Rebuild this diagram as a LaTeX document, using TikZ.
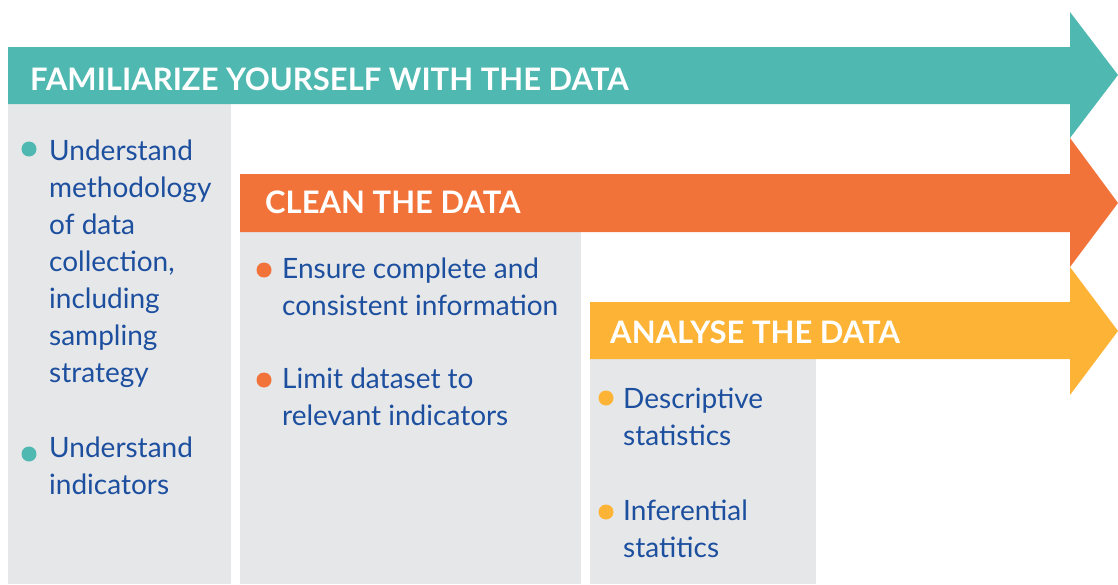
\documentclass[tikz,border=0pt]{standalone}
\usepackage{fontspec}
\setmainfont{Lato}
\definecolor{teal1}{HTML}{4FB8B0}
\definecolor{orange1}{HTML}{F2733A}
\definecolor{yellow1}{HTML}{FDB436}
\definecolor{panelgray}{HTML}{E6E7E9}
\definecolor{textblue}{HTML}{1D4F9F}
\tikzset{
  heading/.style={anchor=base west, inner sep=0pt, text=white, font=\bfseries\fontsize{31}{36}\selectfont},
  body/.style={anchor=base west, inner sep=0pt, text=textblue, align=left, font=\fontsize{28}{37}\selectfont},
  bullet/.style={circle, inner sep=0pt, minimum size=15pt},
}
\begin{document}
\begin{tikzpicture}[x=1pt,y=-1pt]
\useasboundingbox (0,0) rectangle (1118,584);
% panels
\fill[panelgray] (8,104) rectangle (231,584);
\fill[panelgray] (240,232) rectangle (581,584);
\fill[panelgray] (590,359) rectangle (816,584);
% arrows
\fill[teal1] (8,47) -- (1070,47) -- (1070,12) -- (1118,75) -- (1070,138) -- (1070,104) -- (8,104) -- cycle;
\fill[orange1] (240,174) -- (1070,174) -- (1070,138) -- (1118,203) -- (1070,267) -- (1070,232) -- (240,232) -- cycle;
\fill[yellow1] (590,302) -- (1070,302) -- (1070,267) -- (1118,331) -- (1070,395) -- (1070,359) -- (590,359) -- cycle;
% headings
\node[heading] (h1) at (30,90) {FAMILIARIZE YOURSELF WITH THE DATA};
\node[heading] (h2) at (265,213) {CLEAN THE DATA};
\node[heading] (h3) at (610,343) {ANALYSE THE DATA};
% bullets
\node[bullet, fill=teal1] (b1) at (29,149) {};
\node[bullet, fill=teal1] (b2) at (29,454) {};
\node[bullet, fill=orange1] (b3) at (264,270) {};
\node[bullet, fill=orange1] (b4) at (264,380) {};
\node[bullet, fill=yellow1] (b5) at (606,398) {};
\node[bullet, fill=yellow1] (b6) at (606,512) {};
% texts (base anchor = baseline of last line)
\node[body] (t1) at (49,382) {Understand\\methodology\\of data\\collection,\\including\\sampling\\strategy};
\node[body] (t2) at (49,494) {Understand\\indicators};
\node[body] (t3) at (282,315) {Ensure complete and\\consistent information};
\node[body] (t4) at (282,425) {Limit dataset to\\relevant indicators};
\node[body] (t5) at (623,445) {Descriptive\\statistics};
\node[body] (t6) at (623,557) {Inferential\\statitics};
\end{tikzpicture}
\end{document}
